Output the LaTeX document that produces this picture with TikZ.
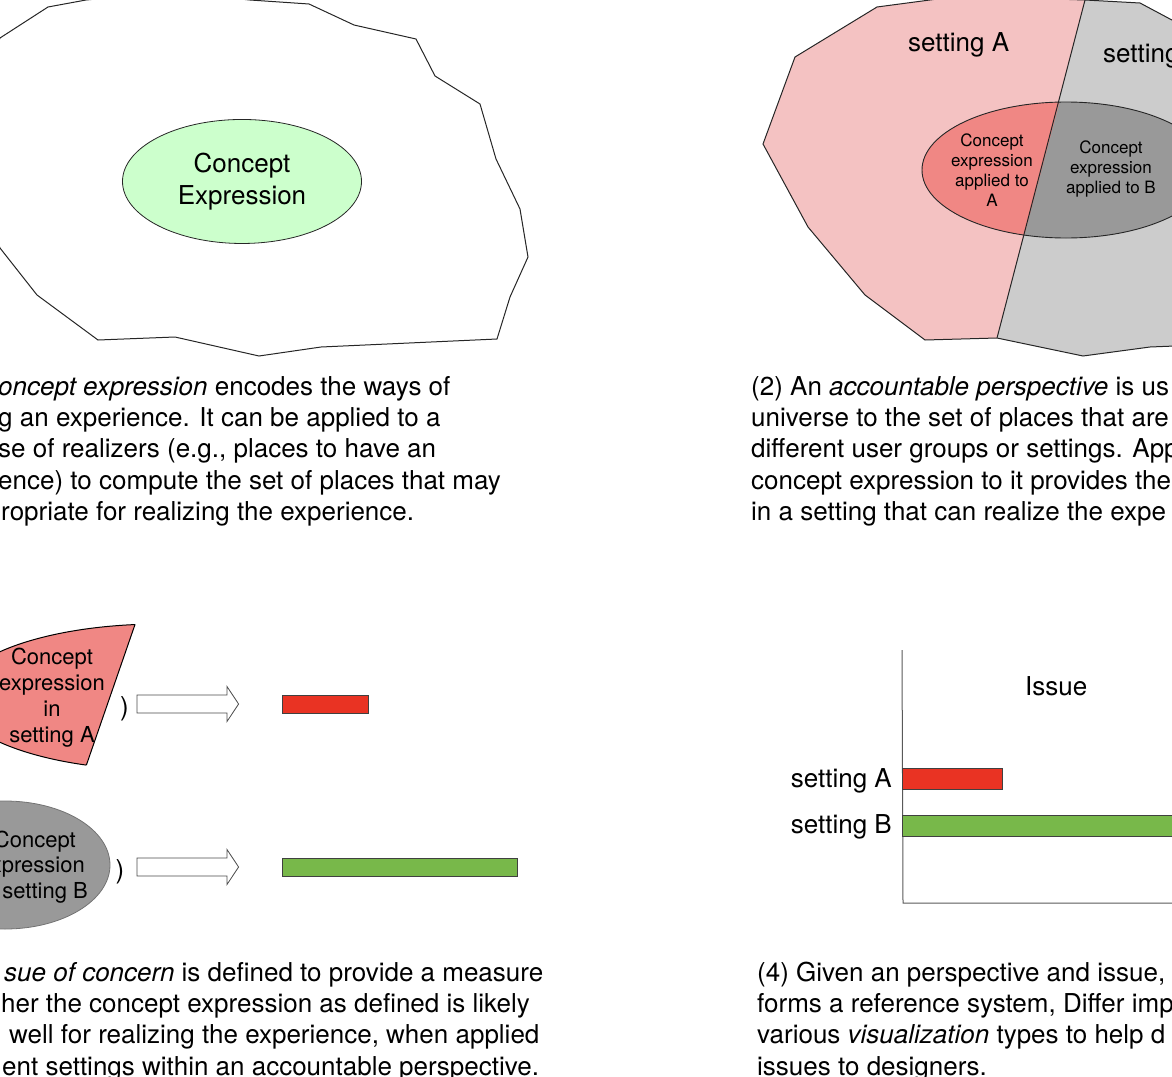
\documentclass[tikz,border=0pt]{standalone}
\usepackage{fontspec}
\setmainfont{TeX Gyre Heros}
\usetikzlibrary{shapes.geometric}
\definecolor{pinkA}{HTML}{F4C2C2}
\definecolor{salmonA}{HTML}{F08784}
\definecolor{greyB}{HTML}{CCCCCC}
\definecolor{greyD}{HTML}{999999}
\definecolor{lgreen}{HTML}{CCFFCC}
\definecolor{barred}{HTML}{E93323}
\definecolor{bargreen}{HTML}{78B84A}
\newcommand{\tfbig}{\fontsize{26}{31.2}\selectfont}
\newcommand{\tfmid}{\fontsize{22}{26}\selectfont}
\newcommand{\tfsmall}{\fontsize{17}{20}\selectfont}
\begin{document}
\begin{tikzpicture}[x=1pt,y=-1pt,
  outl/.style={draw=black!85,line width=1},
  capline/.style={anchor=base west,inner sep=0,font=\tfbig},
  lbl/.style={inner sep=0,font=\tfbig},
  blockarr/.style={fill=white,draw=black!70,line width=0.8},
  barbox/.style={draw=black!75,line width=0.8,anchor=north west,inner sep=0},
  axisline/.style={draw=black!65,line width=1}]
\useasboundingbox (0,0) rectangle (1172,1076);
\clip (0,0) rectangle (1172,1076);

% ---------- panel 1 ----------
\draw[outl] (0,38) -- (48,7) -- (86,0) -- (170,-8) -- (250,0) -- (309,4) -- (354,25)
  -- (416,39) -- (435,76) -- (480,104) -- (496,159) -- (520,209) -- (528,257)
  -- (510,297) -- (497,339) -- (321,347) -- (259,356) -- (175,337) -- (98,340)
  -- (37,295) -- (0,248) -- (-40,140) -- cycle;
\node[ellipse,draw=black!85,line width=0.8,fill=lgreen,minimum width=239,minimum height=124,
  align=center,font=\fontsize{26}{31.3}\selectfont,inner sep=0,anchor=base] (ce) at (242,204)
  {Concept\\Expression};

\node[capline] (c1a) at (-2,395) {\textit{oncept expression} encodes the ways of};
\node[capline] (c1b) at (-2,426) {g an experience. It can be applied to a};
\node[capline] (c1c) at (-2,457) {se of realizers (e.g., places to have an};
\node[capline] (c1d) at (-2,489) {ence) to compute the set of places that may};
\node[capline] (c1e) at (1,520) {ropriate for realizing the experience.};

% ---------- panel 2 ----------
\path[fill=pinkA] (1085,0) -- (960,-4) -- (877,7) -- (795,57) -- (763,144) -- (808,227)
  -- (865,295) -- (925,340) -- (997,338) -- cycle;
\path[fill=greyB] (1085,0) -- (1140,3) -- (1200,35) -- (1200,345) -- (1150,347)
  -- (1083,356) -- (997,338) -- cycle;
\node[ellipse,fill=greyD,minimum width=288,minimum height=136,inner sep=0] (e2) at (1066,170) {};
\begin{scope}
  \clip (1089,-10) -- (994,350) -- (700,350) -- (700,-10) -- cycle;
  \fill[salmonA] (e2.center) ellipse [x radius=144,y radius=68];
\end{scope}
\draw[outl] (1085,0) -- (960,-4) -- (877,7) -- (795,57) -- (763,144) -- (808,227)
  -- (865,295) -- (925,340) -- (997,338) -- (1083,356) -- (1150,347) -- (1200,345);
\draw[outl] (1085,0) -- (1140,3) -- (1200,35);
\coordinate (dtop) at (1085,0);
\coordinate (dbot) at (997,338);
\draw[outl] (dtop) -- (dbot);
\draw[draw=black!85,line width=0.9] (e2.center) ellipse [x radius=144,y radius=68];

\node[lbl,anchor=base west] (sA) at (908,51) {setting A};
\node[lbl,anchor=base west] (sB) at (1103,62) {setting B};
\node[inner sep=0,font=\tfsmall,align=center,anchor=base] (tA) at (992,206.7)
  {Concept\\expression\\applied to\\A};
\node[inner sep=0,font=\tfsmall,align=center,anchor=base] (tB) at (1111,193.3)
  {Concept\\expression\\applied to B};

\node[capline] (c2a) at (751,395) {(2) An \textit{accountable perspective} is us};
\node[capline] (c2b) at (751,426) {universe to the set of places that are};
\node[capline] (c2c) at (751,457) {different user groups or settings. App};
\node[capline] (c2d) at (751,489) {concept expression to it provides the};
\node[capline] (c2e) at (751,520) {in a setting that can realize the expe};

% ---------- panel 3 ----------
\begin{scope}
  \clip (-10,600) -- (143.7,600) -- (77.7,790) -- (-10,790) -- cycle;
  \filldraw[fill=salmonA,draw=black,line width=1] (160,697) ellipse [x radius=204,y radius=73];
\end{scope}
\coordinate (wtop) at (135,624.5);
\coordinate (wbot) at (86.4,765);
\draw[draw=black,line width=1] (wtop) -- (wbot);
\node[inner sep=0,font=\tfmid,align=center] (tRA) at (52,698)
  {Concept\\expression\\in\\setting A};

\node[ellipse,fill=greyD,draw=black!55,line width=0.8,minimum width=210,minimum height=128,inner sep=0]
  (g3) at (5,865) {};
\node[inner sep=0,font=\tfmid,anchor=base east] (tg1) at (76,847) {Concept};
\node[inner sep=0,font=\tfmid,anchor=base east] (tg2) at (85,872) {xpression};
\node[inner sep=0,font=\tfmid,anchor=base east] (tg3) at (88,898) {setting B};

\node[inner sep=0,font=\tfbig] (p1) at (124.5,709) {)};
\node[inner sep=0,font=\tfbig] (p2) at (120,872) {)};

\coordinate (arA) at (137,704);
\coordinate (arB) at (137,867);
\draw[blockarr] (arA) ++(0,-9) -- ++(90,0) -- ++(0,-8.5) -- ++(11.6,17.5) -- ++(-11.6,17.5)
  -- ++(0,-8.5) -- ++(-90,0) -- cycle;
\draw[blockarr] (arB) ++(0,-9) -- ++(90,0) -- ++(0,-8.5) -- ++(11.6,17.5) -- ++(-11.6,17.5)
  -- ++(0,-8.5) -- ++(-90,0) -- cycle;

\node[barbox,fill=barred,minimum width=86,minimum height=18] (rb3) at (282,695) {};
\node[barbox,fill=bargreen,minimum width=235,minimum height=18] (gb3) at (282,858) {};

\node[capline] (c3a) at (4,981.5) {\textit{sue of concern} is defined to provide a measure};
\node[capline] (c3b) at (1,1012.7) {her the concept expression as defined is likely};
\node[capline] (c3c) at (9,1043.9) {well for realizing the experience, when applied};
\node[capline] (c3d) at (2,1075.1) {ent settings within an accountable perspective.};

% ---------- panel 4 ----------
\coordinate (axtop) at (902,650);
\coordinate (axcorner) at (903,903);
\coordinate (axright) at (1180,903);
\draw[axisline] (axtop) -- (axcorner) -- (axright);
\node[lbl,anchor=base west] (iss) at (1025,695) {Issue};
\node[barbox,fill=barred,minimum width=100,minimum height=21] (rb4) at (902,768) {};
\node[barbox,fill=bargreen,minimum width=300,minimum height=21] (gb4) at (902,815) {};
\node[lbl,anchor=base east] (lA) at (892,787) {setting A};
\node[lbl,anchor=base east] (lB) at (892,833) {setting B};

\node[capline] (c4a) at (757,981.5) {(4) Given an perspective and issue,};
\node[capline] (c4b) at (757,1012.7) {forms a reference system, Differ imp};
\node[capline] (c4c) at (757,1043.9) {various \textit{visualization} types to help d};
\node[capline] (c4d) at (757,1075.1) {issues to designers.};
\end{tikzpicture}
\end{document}
